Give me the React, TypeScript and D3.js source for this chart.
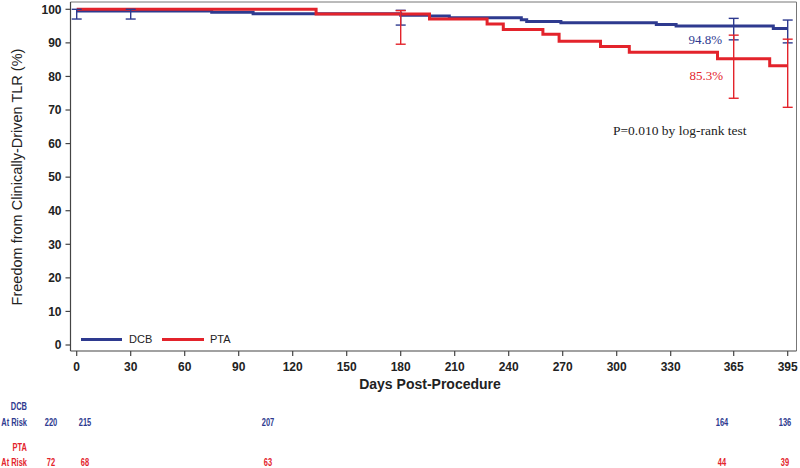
import React from "react";
import * as d3 from "d3";

const W = 800;
const H = 468;

// Kaplan-Meier step data: [day, % freedom]
const dcbSteps: [number, number][] = [
  [0, 99.5], [75, 99.1], [98, 98.7], [180, 98.2], [196, 98.0], [207, 97.5],
  [247, 96.9], [250, 96.4], [269, 96.0], [322, 95.5], [333, 95.0], [387, 94.3],
];
const ptaSteps: [number, number][] = [
  [0, 100], [133, 98.6], [196, 97.1], [228, 95.6], [237, 94.0], [259, 92.6],
  [268, 90.5], [291, 88.9], [307, 87.2], [356, 85.3], [385, 83.2],
];
const endDay = 395;

// 95% CI error bars: [day, low, high]
const dcbCI: [number, number, number][] = [
  [0, 97.1, 100], [30, 97.1, 100], [180, 95.3, 99.7], [365, 90.9, 97.3], [395, 90.0, 96.8],
];
const ptaCI: [number, number, number][] = [
  [180, 89.6, 99.6], [365, 73.5, 92.3], [395, 70.8, 91.1],
];

const xTicks = [0, 30, 60, 90, 120, 150, 180, 210, 240, 270, 300, 330, 365, 395];
const yTicks = [0, 10, 20, 30, 40, 50, 60, 70, 80, 90, 100];

const riskDays = [0, 30, 180, 365, 395];
const dcbRisk = [220, 215, 207, 164, 136];
const ptaRisk = [72, 68, 63, 44, 39];

const BLUE = "#2e3a8f";
const RED = "#e3232b";
const AXIS = "#444";

function Narrow(props: { x: number; y: number; anchor: string; fill: string; children: any }) {
  return (
    <g transform={`translate(${props.x}, ${props.y}) scale(0.68, 1)`}>
      <text
        textAnchor={props.anchor}
        fontFamily="'Liberation Sans', Arial, sans-serif"
        fontWeight="bold"
        fontSize={11}
        fill={props.fill}
      >
        {props.children}
      </text>
    </g>
  );
}

export default function App() {
  const x = d3.scaleLinear().domain([0, 395]).range([76.7, 787.7]);
  const y = d3.scaleLinear().domain([0, 100]).range([345, 9.3]);
  const riskX = d3.scaleLinear().domain(riskDays).range([51, 85, 268, 722, 785]);

  const line = d3
    .line<[number, number]>()
    .x((d) => x(d[0]))
    .y((d) => y(d[1]))
    .curve(d3.curveStepAfter);

  const withEnd = (s: [number, number][]): [number, number][] => [
    ...s,
    [endDay, s[s.length - 1][1]],
  ];

  const plotLeft = 70.5;
  const plotRight = 796.5;
  const plotTop = 2;
  const plotBottom = 351;

  const tickFont = "'Liberation Sans', Arial, sans-serif";
  const serif = "'Liberation Serif', 'Times New Roman', serif";

  const errBar = (ci: [number, number, number][], color: string, key: string) =>
    ci.map((d, i) => {
      const cx = x(d[0]);
      const cap = 5;
      return (
        <g key={key + i} stroke={color} strokeWidth={1.4}>
          <line x1={cx} x2={cx} y1={y(d[1])} y2={y(d[2])} />
          <line x1={cx - cap} x2={cx + cap} y1={y(d[1])} y2={y(d[1])} />
          <line x1={cx - cap} x2={cx + cap} y1={y(d[2])} y2={y(d[2])} />
        </g>
      );
    });

  return (
    <svg
      width={W}
      height={H}
      style={{ position: "fixed", left: 0, top: 0, background: "#fff" }}
    >
      {/* frame */}
      <line x1={plotLeft} x2={plotRight} y1={plotTop} y2={plotTop} stroke="#777" strokeWidth={1} />
      <line x1={plotRight} x2={plotRight} y1={plotTop} y2={plotBottom} stroke="#777" strokeWidth={1} />
      <line x1={plotLeft} x2={plotLeft} y1={plotTop} y2={plotBottom} stroke={AXIS} strokeWidth={1.2} />
      <line x1={plotLeft} x2={plotRight} y1={plotBottom} y2={plotBottom} stroke={AXIS} strokeWidth={1.2} />

      {/* y ticks */}
      {yTicks.map((t) => (
        <g key={"y" + t}>
          <line x1={plotLeft - 5} x2={plotLeft} y1={y(t)} y2={y(t)} stroke={AXIS} strokeWidth={1.2} />
          <text
            x={plotLeft - 9}
            y={y(t)}
            dy="0.36em"
            textAnchor="end"
            fontFamily={tickFont}
            fontWeight="bold"
            fontSize={12}
            fill="#222"
          >
            {t}
          </text>
        </g>
      ))}

      {/* x ticks */}
      {xTicks.map((t) => (
        <g key={"x" + t}>
          <line x1={x(t)} x2={x(t)} y1={plotBottom} y2={plotBottom + 5} stroke={AXIS} strokeWidth={1.2} />
          <text
            x={x(t)}
            y={plotBottom + 20}
            textAnchor="middle"
            fontFamily={tickFont}
            fontWeight="bold"
            fontSize={12}
            fill="#222"
          >
            {t}
          </text>
        </g>
      ))}

      {/* axis titles */}
      <text
        x={430}
        y={389}
        textAnchor="middle"
        fontFamily={tickFont}
        fontWeight="bold"
        fontSize={14}
        fill="#222"
      >
        Days Post-Procedure
      </text>
      <text
        transform={`translate(22, 177) rotate(-90)`}
        textAnchor="middle"
        fontFamily={tickFont}
        fontSize={14.5}
        fill="#222"
      >
        Freedom from Clinically-Driven TLR (%)
      </text>

      {/* curves */}
      <path d={line(withEnd(dcbSteps)) || ""} fill="none" stroke={BLUE} strokeWidth={3} />
      <path d={line(withEnd(ptaSteps)) || ""} fill="none" stroke={RED} strokeWidth={3} />

      {/* error bars */}
      {errBar(dcbCI, BLUE, "d")}
      {errBar(ptaCI, RED, "p")}

      {/* annotations */}
      <text x={722} y={44} textAnchor="end" fontFamily={serif} fontSize={13} fill={BLUE}>
        94.8%
      </text>
      <text x={723} y={80} textAnchor="end" fontFamily={serif} fontSize={13} fill={RED}>
        85.3%
      </text>
      <text x={613} y={135} fontFamily={serif} fontSize={13.5} fill="#222">
        P=0.010 by log-rank test
      </text>

      {/* legend */}
      <line x1={81} x2={122} y1={339.5} y2={339.5} stroke={BLUE} strokeWidth={3} />
      <text x={129} y={339.5} dy="0.36em" fontFamily={tickFont} fontSize={11} fill="#222">DCB</text>
      <line x1={162} x2={204} y1={339.5} y2={339.5} stroke={RED} strokeWidth={3} />
      <text x={210} y={339.5} dy="0.36em" fontFamily={tickFont} fontSize={11} fill="#222">PTA</text>

      {/* risk table */}
      <Narrow x={27} y={410} anchor="end" fill={BLUE}>DCB</Narrow>
      <Narrow x={27} y={426} anchor="end" fill={BLUE}>At Risk</Narrow>
      {dcbRisk.map((v, i) => (
        <Narrow key={"dr" + i} x={riskX(riskDays[i])} y={426} anchor="middle" fill={BLUE}>{v}</Narrow>
      ))}
      <Narrow x={27} y={451} anchor="end" fill={RED}>PTA</Narrow>
      <Narrow x={27} y={466} anchor="end" fill={RED}>At Risk</Narrow>
      {ptaRisk.map((v, i) => (
        <Narrow key={"pr" + i} x={riskX(riskDays[i])} y={466} anchor="middle" fill={RED}>{v}</Narrow>
      ))}
    </svg>
  );
}
